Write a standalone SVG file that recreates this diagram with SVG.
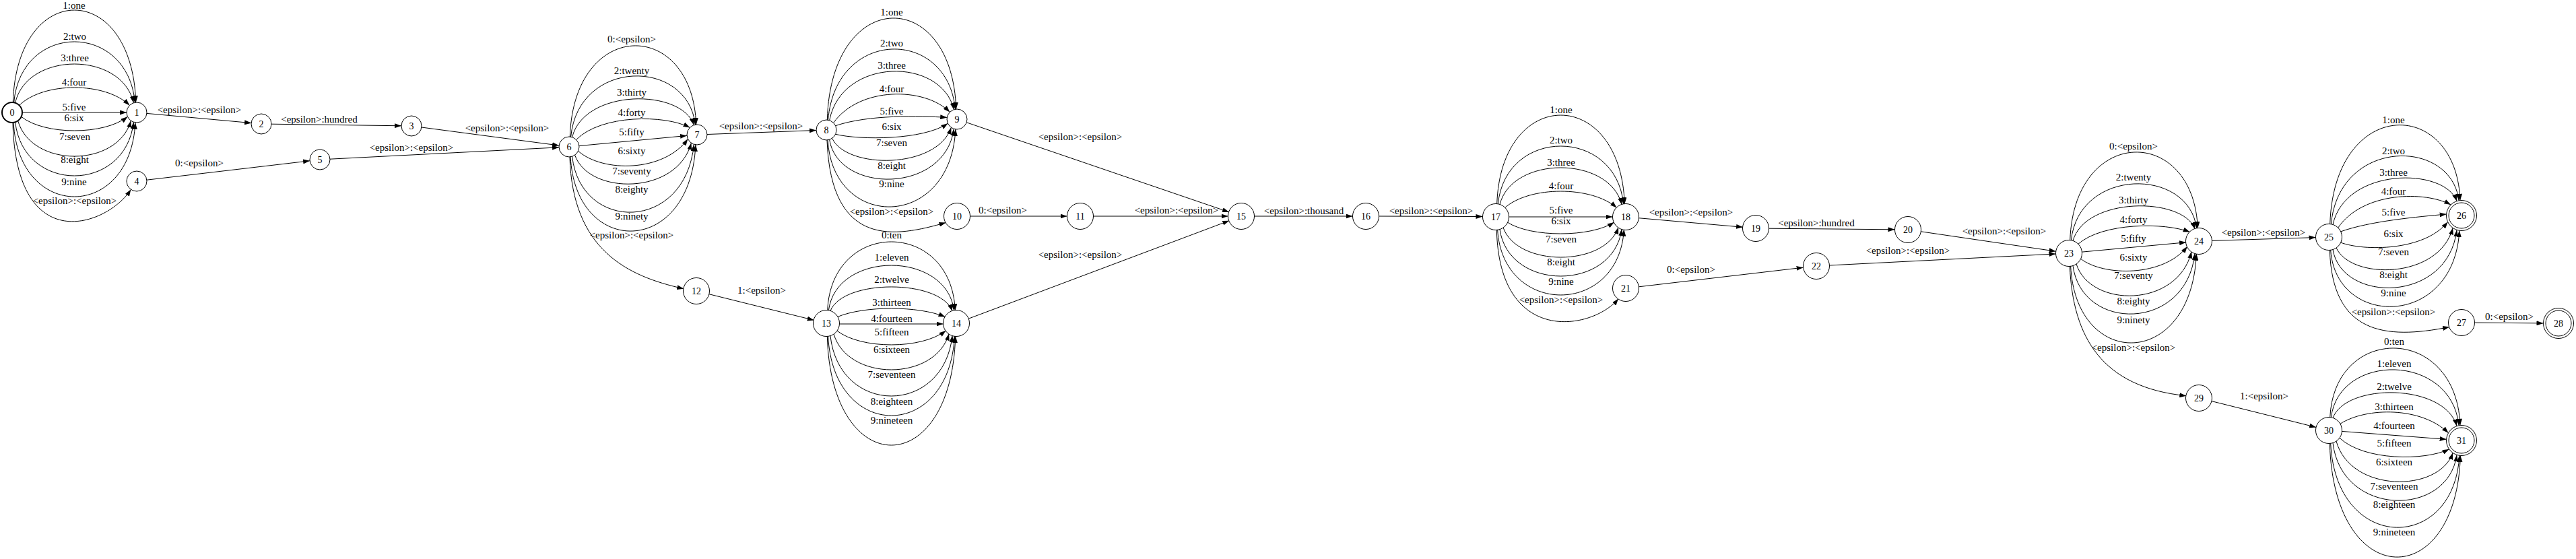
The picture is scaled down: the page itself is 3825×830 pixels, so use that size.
<svg xmlns="http://www.w3.org/2000/svg" width="3825" height="830" viewBox="0 0 3825 830">
<style>
.e{fill:none;stroke:#000;stroke-width:1;marker-end:url(#a)}
.l{font-family:"Liberation Serif","Times New Roman",serif;font-size:15px;text-anchor:middle;fill:#000}
.n circle{fill:#fff;stroke:#000;stroke-width:1}
.n text{font-family:"Liberation Serif","Times New Roman",serif;font-size:14px;text-anchor:middle;fill:#000}
.b circle{stroke-width:2}
</style>
<defs>
<marker id="a" markerUnits="userSpaceOnUse" markerWidth="10" markerHeight="7" refX="10" refY="3.5" orient="auto"><path d="M0,0 L10,3.5 L0,7 z" fill="#000"/></marker>
</defs>
<rect width="3825" height="830" fill="#fff"/>
<g id="connectors">
<g id="g01">
<path class="e" d="M19.3,152.1 C24.8,-30.7 196.2,-30.7 201.7,152.1"/><text class="l" x="110" y="13">1:one</text>
<path class="e" d="M20.6,152.2 C31.4,31.9 189.6,31.9 200.4,152.2"/><text class="l" x="111" y="59">2:two</text>
<path class="e" d="M22.6,152.7 C40.2,75.8 180.8,75.8 198.4,152.7"/><text class="l" x="111" y="91">3:three</text>
<path class="e" d="M28.6,156.4 C64.6,121.2 156.4,121.2 192.4,156.4"/><text class="l" x="110" y="127">4:four</text>
<path class="e" d="M33,167 L188,167"/><text class="l" x="110" y="164">5:five</text>
<path class="e" d="M31.6,173.3 C66.3,200.9 154.7,200.9 189.4,173.3"/><text class="l" x="110" y="180">6:six</text>
<path class="e" d="M26.6,179.3 C46.6,249.6 174.4,249.6 194.4,179.3"/><text class="l" x="111" y="208">7:seven</text>
<path class="e" d="M22.6,181.3 C34.9,287.6 186.1,287.6 198.4,181.3"/><text class="l" x="111" y="242">8:eight</text>
<path class="e" d="M20.1,181.9 C27.3,328.7 193.7,328.7 200.9,181.9"/><text class="l" x="110" y="275">9:nine</text>
<path class="e" d="M19,182 C24,385 160,335 194.4,281.3"/><text class="l" x="111" y="303">&lt;epsilon&gt;:&lt;epsilon&gt;</text>
</g>
<g id="g_misc1">
<path class="e" d="M217.9,168.4 L373.1,182.6"/><text class="l" x="296" y="168">&lt;epsilon&gt;:&lt;epsilon&gt;</text>
<path class="e" d="M403,184.2 L596,186.8"/><text class="l" x="474" y="182">&lt;epsilon&gt;:hundred</text>
<path class="e" d="M625.9,189 L830.1,216"/><text class="l" x="753" y="195">&lt;epsilon&gt;:&lt;epsilon&gt;</text>
<path class="e" d="M217.9,267.2 L460.1,238.8"/><text class="l" x="296" y="247">0:&lt;epsilon&gt;</text>
<path class="e" d="M490,236.2 L830,218.8"/><text class="l" x="611" y="224">&lt;epsilon&gt;:&lt;epsilon&gt;</text>
</g>
<g id="g67">
<path class="e" d="M846.3,203.1 C851.9,26 1028.1,26 1033.7,185.1"/><text class="l" x="938" y="63">0:&lt;epsilon&gt;</text>
<path class="e" d="M847.6,203.2 C858.7,85.9 1021.3,85.9 1032.4,185.2"/><text class="l" x="938" y="110">2:twenty</text>
<path class="e" d="M849.6,203.7 C867.7,131.1 1012.3,131.1 1030.4,185.7"/><text class="l" x="938" y="142">3:thirty</text>
<path class="e" d="M855.6,207.4 C892.8,169.9 987.2,169.9 1024.4,189.4"/><text class="l" x="938" y="172">4:forty</text>
<path class="e" d="M859.9,216.6 L1020.1,201.4"/><text class="l" x="938" y="201">5:fifty</text>
<path class="e" d="M858.6,224.3 C894.5,256.2 985.5,256.2 1021.4,206.3"/><text class="l" x="938" y="229">6:sixty</text>
<path class="e" d="M853.6,230.3 C874.4,290.2 1005.6,290.2 1026.4,212.3"/><text class="l" x="938" y="259">7:seventy</text>
<path class="e" d="M849.6,232.3 C862.3,345.6 1017.7,345.6 1030.4,214.3"/><text class="l" x="938" y="286">8:eighty</text>
<path class="e" d="M847.1,232.9 C854.5,382.7 1025.5,382.7 1032.9,214.9"/><text class="l" x="938" y="326">9:ninety</text>
<path class="e" d="M846,233 C850,370 930,410 1015.3,428.7"/><text class="l" x="938" y="354">&lt;epsilon&gt;:&lt;epsilon&gt;</text>
</g>
<g id="g_misc2">
<path class="e" d="M1050,199.5 L1212,193.5"/><text class="l" x="1130" y="192">&lt;epsilon&gt;:&lt;epsilon&gt;</text>
<path class="e" d="M1435.2,181.8 L1825,314.9"/><text class="l" x="1604" y="208">&lt;epsilon&gt;:&lt;epsilon&gt;</text>
<path class="e" d="M1440.5,321 L1584.5,321"/><text class="l" x="1489" y="317">0:&lt;epsilon&gt;</text>
<path class="e" d="M1623.5,321 L1823.5,321"/><text class="l" x="1747" y="317">&lt;epsilon&gt;:&lt;epsilon&gt;</text>
<path class="e" d="M1052.4,436.6 L1208.6,475.4"/><text class="l" x="1131" y="436">1:&lt;epsilon&gt;</text>
<path class="e" d="M1437.8,473.3 L1825.2,327.7"/><text class="l" x="1604" y="383">&lt;epsilon&gt;:&lt;epsilon&gt;</text>
<path class="e" d="M1862.5,321 L2008.5,321"/><text class="l" x="1936" y="318">&lt;epsilon&gt;:thousand</text>
<path class="e" d="M2047.5,321 L2201.5,321.5"/><text class="l" x="2125" y="318">&lt;epsilon&gt;:&lt;epsilon&gt;</text>
</g>
<g id="g89">
<path class="e" d="M1228.3,178.1 C1234,-20.7 1414,-20.7 1419.7,162.1"/><text class="l" x="1324" y="23">1:one</text>
<path class="e" d="M1229.6,178.2 C1240.9,40.6 1407.1,40.6 1418.4,162.2"/><text class="l" x="1324" y="69">2:two</text>
<path class="e" d="M1231.6,178.7 C1250.1,84.4 1397.9,84.4 1416.4,162.7"/><text class="l" x="1324" y="102">3:three</text>
<path class="e" d="M1237.6,182.4 C1275.6,128.5 1372.4,128.5 1410.4,166.4"/><text class="l" x="1324" y="137">4:four</text>
<path class="e" d="M1240.6,186.7 C1290,170 1365,172 1406.2,174.4"/><text class="l" x="1324" y="170">5:five</text>
<path class="e" d="M1240.6,199.3 C1277.3,208.2 1370.7,208.2 1407.4,183.3"/><text class="l" x="1324" y="193">6:six</text>
<path class="e" d="M1235.6,205.3 C1256.8,251.6 1391.2,251.6 1412.4,189.3"/><text class="l" x="1324" y="217">7:seven</text>
<path class="e" d="M1231.6,207.3 C1244.6,288.2 1403.4,288.2 1416.4,191.3"/><text class="l" x="1324" y="251">8:eight</text>
<path class="e" d="M1229.1,207.9 C1236.7,342.7 1411.3,342.7 1418.9,191.9"/><text class="l" x="1324" y="278">9:nine</text>
<path class="e" d="M1228,208 C1234,370 1330,352 1404.5,330.5"/><text class="l" x="1324" y="319">&lt;epsilon&gt;:&lt;epsilon&gt;</text>
</g>
<g id="g1314">
<path class="e" d="M1228.7,461.1 C1234.4,325 1412.6,325 1418.3,461.1"/><text class="l" x="1324" y="354">0:ten</text>
<path class="e" d="M1230.3,461.3 C1241.5,371.6 1405.5,371.6 1416.7,461.3"/><text class="l" x="1324" y="387">1:eleven</text>
<path class="e" d="M1232.9,461.9 C1251,414 1396,414 1414.1,461.9"/><text class="l" x="1324" y="420">2:twelve</text>
<path class="e" d="M1243.5,470.5 C1283.5,453.8 1363.5,453.8 1403.5,470.5"/><text class="l" x="1324" y="454">3:thirteen</text>
<path class="e" d="M1246.5,481 L1400.5,481"/><text class="l" x="1324" y="478">4:fourteen</text>
<path class="e" d="M1242.6,490.9 C1278.2,519 1368.8,519 1404.4,490.9"/><text class="l" x="1324" y="498">5:fifteen</text>
<path class="e" d="M1237.9,495.6 C1258.4,566.8 1388.6,566.8 1409.1,495.6"/><text class="l" x="1324" y="524">6:sixteen</text>
<path class="e" d="M1232.9,498.1 C1245.6,618 1401.4,618 1414.1,498.1"/><text class="l" x="1324" y="561">7:seventeen</text>
<path class="e" d="M1229.6,498.8 C1237.1,656.4 1409.9,656.4 1417.4,498.8"/><text class="l" x="1324" y="601">8:eighteen</text>
<path class="e" d="M1228.3,499 C1234,715 1413,715 1418.7,499"/><text class="l" x="1324" y="629">9:nineteen</text>
</g>
<g id="g1718">
<path class="e" d="M2222.7,303.1 C2228.4,127 2406.6,127 2412.3,303.1"/><text class="l" x="2318" y="168">1:one</text>
<path class="e" d="M2224.3,303.3 C2235.5,188.2 2399.5,188.2 2410.7,303.3"/><text class="l" x="2318" y="213">2:two</text>
<path class="e" d="M2226.9,303.9 C2245,230.7 2390,230.7 2408.1,303.9"/><text class="l" x="2318" y="246">3:three</text>
<path class="e" d="M2234.4,308.6 C2271,275.8 2364,275.8 2400.6,308.6"/><text class="l" x="2318" y="281">4:four</text>
<path class="e" d="M2240.5,322 L2394.5,322"/><text class="l" x="2318" y="317">5:five</text>
<path class="e" d="M2238.2,330 C2273.2,352.7 2361.8,352.7 2396.8,330"/><text class="l" x="2318" y="333">6:six</text>
<path class="e" d="M2231.9,337.6 C2252.4,396.8 2382.6,396.8 2403.1,337.6"/><text class="l" x="2318" y="360">7:seven</text>
<path class="e" d="M2226.9,340.1 C2239.6,433.3 2395.4,433.3 2408.1,340.1"/><text class="l" x="2318" y="394">8:eight</text>
<path class="e" d="M2223.6,340.8 C2231.1,470.4 2403.9,470.4 2411.4,340.8"/><text class="l" x="2318" y="423">9:nine</text>
<path class="e" d="M2222.3,341 C2226,515 2365,490 2403.1,443.6"/><text class="l" x="2318" y="450">&lt;epsilon&gt;:&lt;epsilon&gt;</text>
</g>
<g id="g_misc3">
<path class="e" d="M2432.9,323.7 L2588.1,337.3"/><text class="l" x="2511" y="320">&lt;epsilon&gt;:&lt;epsilon&gt;</text>
<path class="e" d="M2626.5,339.2 L2813.5,340.8"/><text class="l" x="2697" y="336">&lt;epsilon&gt;:hundred</text>
<path class="e" d="M2852.3,343.8 L3052.7,373.2"/><text class="l" x="2976" y="348">&lt;epsilon&gt;:&lt;epsilon&gt;</text>
<path class="e" d="M2433.4,425.8 L2677.6,397.2"/><text class="l" x="2511" y="405">0:&lt;epsilon&gt;</text>
<path class="e" d="M2716.5,394 L3052.5,377"/><text class="l" x="2833" y="377">&lt;epsilon&gt;:&lt;epsilon&gt;</text>
<path class="e" d="M3284.5,357.4 L3438.5,352.6"/><text class="l" x="3361" y="350">&lt;epsilon&gt;:&lt;epsilon&gt;</text>
<path class="e" d="M3674.5,479.1 L3776.5,479.9"/><text class="l" x="3726" y="475">0:&lt;epsilon&gt;</text>
<path class="e" d="M3283.9,595.6 L3439.1,634.4"/><text class="l" x="3362" y="593">1:&lt;epsilon&gt;</text>
</g>
<g id="g2324">
<path class="e" d="M3073.7,357.1 C3079.4,185.3 3257.6,185.3 3263.3,339.1"/><text class="l" x="3168" y="222">0:&lt;epsilon&gt;</text>
<path class="e" d="M3075.3,357.3 C3086.5,247.9 3250.5,247.9 3261.7,339.3"/><text class="l" x="3168" y="268">2:twenty</text>
<path class="e" d="M3077.9,357.9 C3096,291.7 3241,291.7 3259.1,339.9"/><text class="l" x="3168" y="302">3:thirty</text>
<path class="e" d="M3085.4,362.6 C3122,330.1 3215,330.1 3251.6,344.6"/><text class="l" x="3168" y="331">4:forty</text>
<path class="e" d="M3090.9,374.2 L3246.1,359.8"/><text class="l" x="3168" y="359">5:fifty</text>
<path class="e" d="M3089.2,384 C3124.2,411 3212.8,411 3247.8,366"/><text class="l" x="3168" y="387">6:sixty</text>
<path class="e" d="M3082.9,391.6 C3103.4,457.8 3233.6,457.8 3254.1,373.6"/><text class="l" x="3168" y="414">7:seventy</text>
<path class="e" d="M3077.9,394.1 C3090.6,493 3246.4,493 3259.1,376.1"/><text class="l" x="3168" y="452">8:eighty</text>
<path class="e" d="M3074.6,394.8 C3082.1,550 3253.9,550 3261.4,376.8"/><text class="l" x="3168" y="480">9:ninety</text>
<path class="e" d="M3073.3,395 C3078,500 3120,575 3246.3,587.7"/><text class="l" x="3168" y="521">&lt;epsilon&gt;:&lt;epsilon&gt;</text>
</g>
<g id="g2526">
<path class="e" d="M3459.7,333.1 C3465.5,142.9 3647.2,142.9 3653,297.6"/><text class="l" x="3554" y="183">1:one</text>
<path class="e" d="M3461.3,333.3 C3472.7,204.2 3639.7,204.2 3651.1,297.8"/><text class="l" x="3554" y="229">2:two</text>
<path class="e" d="M3463.9,333.9 C3482.3,247.9 3629.6,247.9 3648,298.6"/><text class="l" x="3554" y="261">3:three</text>
<path class="e" d="M3471.4,338.6 C3508.4,283.6 3602.1,283.6 3639.1,304.1"/><text class="l" x="3554" y="289">4:four</text>
<path class="e" d="M3475.2,344 C3520,328 3590,322 3632.6,318"/><text class="l" x="3554" y="320">5:five</text>
<path class="e" d="M3475.2,360 C3510.2,373.1 3599.6,373.1 3634.6,329.5"/><text class="l" x="3554" y="352">6:six</text>
<path class="e" d="M3468.9,367.6 C3489.7,415.7 3621.3,415.7 3642.1,338.4"/><text class="l" x="3554" y="379">7:seven</text>
<path class="e" d="M3463.9,370.1 C3476.8,450.8 3635.1,450.8 3648,341.4"/><text class="l" x="3554" y="413">8:eight</text>
<path class="e" d="M3460.6,370.8 C3468.2,487.8 3644.3,487.8 3651.9,342.3"/><text class="l" x="3554" y="440">9:nine</text>
<path class="e" d="M3459.3,371 C3463,495 3540,505 3637.1,485.5"/><text class="l" x="3554" y="468">&lt;epsilon&gt;:&lt;epsilon&gt;</text>
</g>
<g id="g3031">
<path class="e" d="M3459.7,620.1 C3465.5,480.7 3647.2,480.7 3653,631.6"/><text class="l" x="3555" y="512">0:ten</text>
<path class="e" d="M3461.3,620.3 C3472.7,523.3 3639.7,523.3 3651.1,631.8"/><text class="l" x="3555" y="545">1:eleven</text>
<path class="e" d="M3463.9,620.9 C3482.3,568.4 3629.6,568.4 3648,632.6"/><text class="l" x="3555" y="579">2:twelve</text>
<path class="e" d="M3474.5,629.5 C3514.5,604 3595.5,604 3635.5,642.8"/><text class="l" x="3555" y="609">3:thirteen</text>
<path class="e" d="M3476.9,640.4 L3632.6,652.3"/><text class="l" x="3555" y="637">4:fourteen</text>
<path class="e" d="M3473.6,649.9 C3509.5,684.5 3600.7,684.5 3636.6,666.9"/><text class="l" x="3555" y="663">5:fifteen</text>
<path class="e" d="M3468.9,654.6 C3489.7,732.2 3621.3,732.2 3642.1,672.4"/><text class="l" x="3555" y="691">6:sixteen</text>
<path class="e" d="M3463.9,657.1 C3476.8,768.6 3635.1,768.6 3648,675.4"/><text class="l" x="3555" y="727">7:seventeen</text>
<path class="e" d="M3460.6,657.8 C3468.2,821.7 3644.3,821.7 3651.9,676.3"/><text class="l" x="3555" y="754">8:eighteen</text>
<path class="e" d="M3459.3,658 C3465.1,880.3 3647.6,880.3 3653.4,676.4"/><text class="l" x="3555" y="795">9:nineteen</text>
</g>
</g>
<g id="node0" class="n b"><circle cx="18" cy="167" r="15"/><text x="18" y="172">0</text></g>
<g id="node1" class="n"><circle cx="203" cy="167" r="15"/><text x="203" y="172">1</text></g>
<g id="node2" class="n"><circle cx="388" cy="184" r="15"/><text x="388" y="189">2</text></g>
<g id="node3" class="n"><circle cx="611" cy="187" r="15"/><text x="611" y="192">3</text></g>
<g id="node4" class="n"><circle cx="203" cy="269" r="15"/><text x="203" y="274">4</text></g>
<g id="node5" class="n"><circle cx="475" cy="237" r="15"/><text x="475" y="242">5</text></g>
<g id="node6" class="n"><circle cx="845" cy="218" r="15"/><text x="845" y="223">6</text></g>
<g id="node7" class="n"><circle cx="1035" cy="200" r="15"/><text x="1035" y="205">7</text></g>
<g id="node8" class="n"><circle cx="1227" cy="193" r="15"/><text x="1227" y="198">8</text></g>
<g id="node9" class="n"><circle cx="1421" cy="177" r="15"/><text x="1421" y="182">9</text></g>
<g id="node10" class="n"><circle cx="1421" cy="321" r="19.5"/><text x="1421" y="326">10</text></g>
<g id="node11" class="n"><circle cx="1604" cy="321" r="19.5"/><text x="1604" y="326">11</text></g>
<g id="node12" class="n"><circle cx="1034" cy="432" r="19.5"/><text x="1034" y="437">12</text></g>
<g id="node13" class="n"><circle cx="1227" cy="480" r="19.5"/><text x="1227" y="485">13</text></g>
<g id="node14" class="n"><circle cx="1420" cy="480" r="19.5"/><text x="1420" y="485">14</text></g>
<g id="node15" class="n"><circle cx="1843" cy="321" r="19.5"/><text x="1843" y="326">15</text></g>
<g id="node16" class="n"><circle cx="2028" cy="321" r="19.5"/><text x="2028" y="326">16</text></g>
<g id="node17" class="n"><circle cx="2221" cy="322" r="19.5"/><text x="2221" y="327">17</text></g>
<g id="node18" class="n"><circle cx="2414" cy="322" r="19.5"/><text x="2414" y="327">18</text></g>
<g id="node19" class="n"><circle cx="2607" cy="339" r="19.5"/><text x="2607" y="344">19</text></g>
<g id="node20" class="n"><circle cx="2833" cy="341" r="19.5"/><text x="2833" y="346">20</text></g>
<g id="node21" class="n"><circle cx="2414" cy="428" r="19.5"/><text x="2414" y="433">21</text></g>
<g id="node22" class="n"><circle cx="2697" cy="395" r="19.5"/><text x="2697" y="400">22</text></g>
<g id="node23" class="n"><circle cx="3072" cy="376" r="19.5"/><text x="3072" y="381">23</text></g>
<g id="node24" class="n"><circle cx="3265" cy="358" r="19.5"/><text x="3265" y="363">24</text></g>
<g id="node25" class="n"><circle cx="3458" cy="352" r="19.5"/><text x="3458" y="357">25</text></g>
<g id="node26" class="n"><circle cx="3655" cy="320" r="22.5"/><circle cx="3655" cy="320" r="19"/><text x="3655" y="325">26</text></g>
<g id="node27" class="n"><circle cx="3655" cy="479" r="19.5"/><text x="3655" y="484">27</text></g>
<g id="node28" class="n"><circle cx="3799" cy="480" r="22.5"/><circle cx="3799" cy="480" r="19"/><text x="3799" y="485">28</text></g>
<g id="node29" class="n"><circle cx="3265" cy="591" r="19.5"/><text x="3265" y="596">29</text></g>
<g id="node30" class="n"><circle cx="3458" cy="639" r="19.5"/><text x="3458" y="644">30</text></g>
<g id="node31" class="n"><circle cx="3655" cy="654" r="22.5"/><circle cx="3655" cy="654" r="19"/><text x="3655" y="659">31</text></g>
</svg>
